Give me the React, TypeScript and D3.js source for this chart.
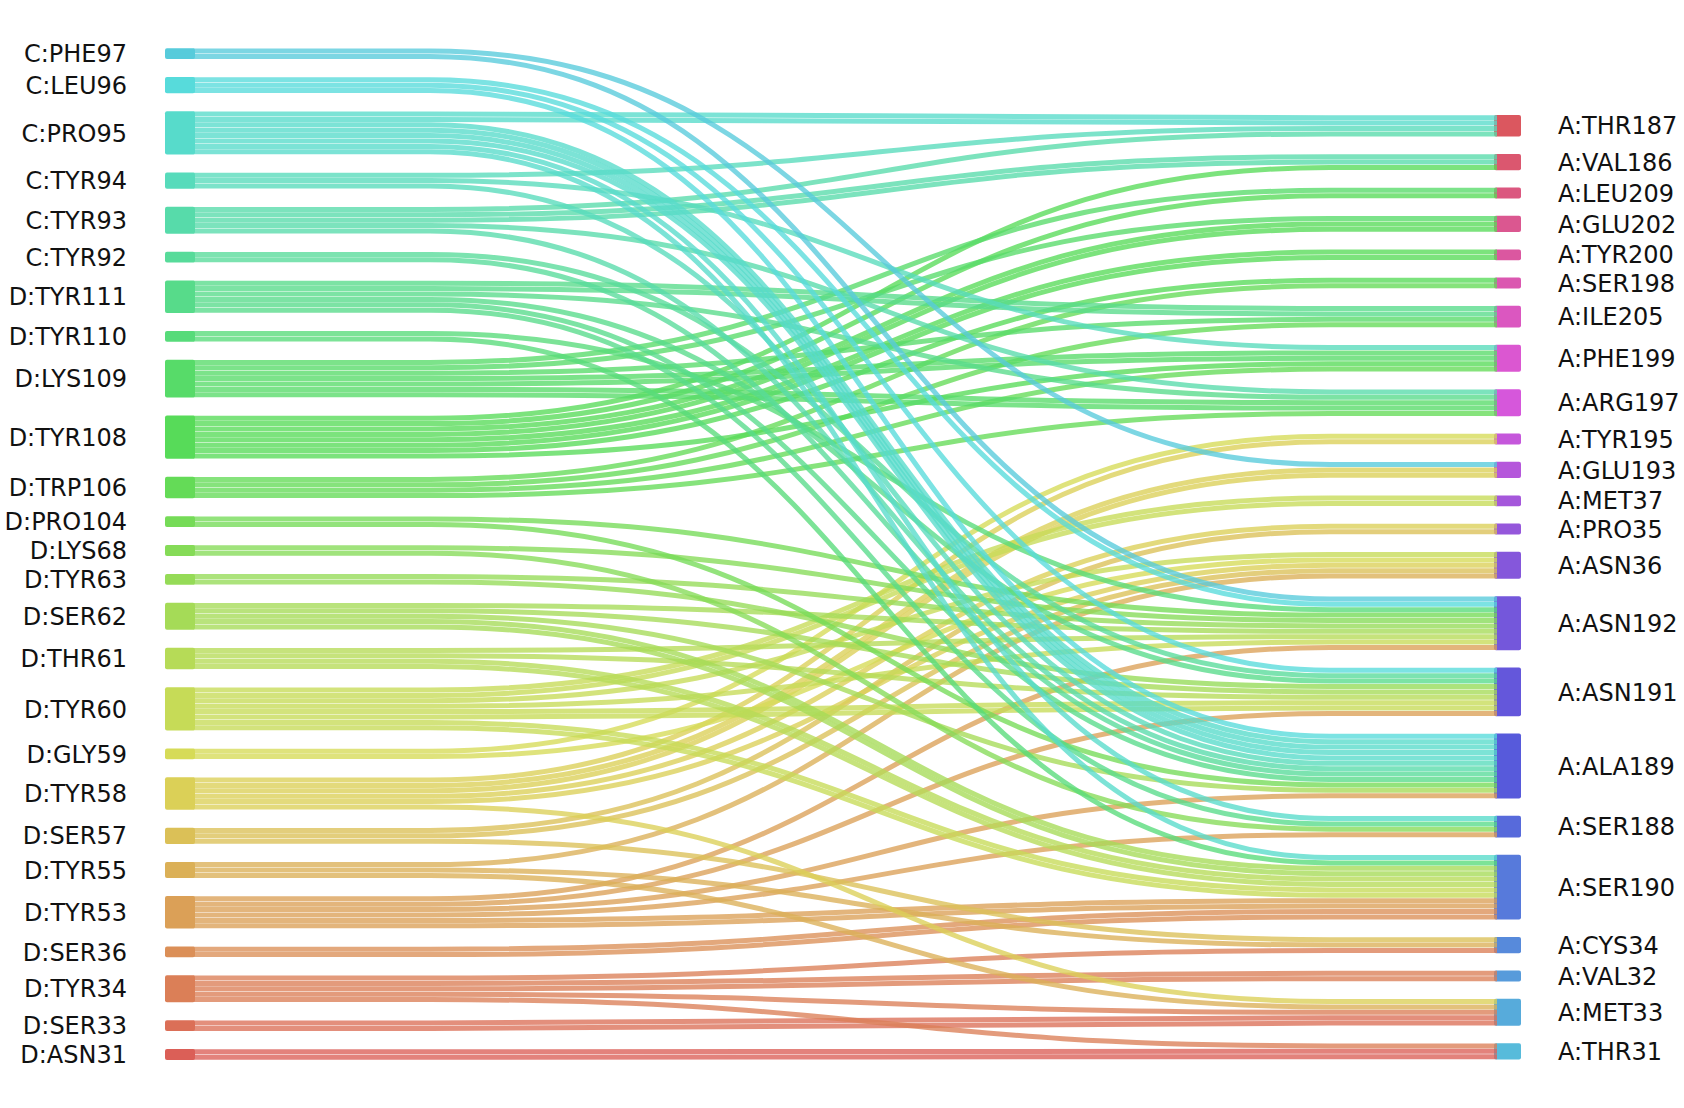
import React from 'react';
import * as d3 from 'd3';

// residues on the binder side (left, top to bottom)
const leftNodes = [
  'C:PHE97', 'C:LEU96', 'C:PRO95', 'C:TYR94', 'C:TYR93', 'C:TYR92',
  'D:TYR111', 'D:TYR110', 'D:LYS109', 'D:TYR108', 'D:TRP106', 'D:PRO104',
  'D:LYS68', 'D:TYR63', 'D:SER62', 'D:THR61', 'D:TYR60', 'D:GLY59',
  'D:TYR58', 'D:SER57', 'D:TYR55', 'D:TYR53', 'D:SER36', 'D:TYR34',
  'D:SER33', 'D:ASN31',
];

// residues on the target side (right, top to bottom)
const rightNodes = [
  'A:THR187', 'A:VAL186', 'A:LEU209', 'A:GLU202', 'A:TYR200', 'A:SER198',
  'A:ILE205', 'A:PHE199', 'A:ARG197', 'A:TYR195', 'A:GLU193', 'A:MET37',
  'A:PRO35', 'A:ASN36', 'A:ASN192', 'A:ASN191', 'A:ALA189', 'A:SER188',
  'A:SER190', 'A:CYS34', 'A:VAL32', 'A:MET33', 'A:THR31',
];

// contacts: source, target, number of contacts
const contacts: [string, string, number][] = [
  ['C:PHE97', 'A:GLU193', 1], ['C:PHE97', 'A:ASN192', 1],
  ['C:LEU96', 'A:ASN192', 1], ['C:LEU96', 'A:ASN191', 1], ['C:LEU96', 'A:ALA189', 1],
  ['C:PRO95', 'A:THR187', 2], ['C:PRO95', 'A:ALA189', 4],
  ['C:PRO95', 'A:SER188', 1], ['C:PRO95', 'A:SER190', 1],
  ['C:TYR94', 'A:THR187', 1], ['C:TYR94', 'A:PHE199', 1], ['C:TYR94', 'A:ALA189', 1],
  ['C:TYR93', 'A:THR187', 1], ['C:TYR93', 'A:VAL186', 2], ['C:TYR93', 'A:ARG197', 1],
  ['C:TYR93', 'A:ALA189', 1],
  ['C:TYR92', 'A:ASN191', 1], ['C:TYR92', 'A:ALA189', 1],
  ['D:TYR111', 'A:ILE205', 2], ['D:TYR111', 'A:ARG197', 1], ['D:TYR111', 'A:ASN191', 1],
  ['D:TYR111', 'A:ALA189', 1], ['D:TYR111', 'A:SER188', 1],
  ['D:TYR110', 'A:ASN192', 1], ['D:TYR110', 'A:SER190', 1],
  ['D:LYS109', 'A:LEU209', 1], ['D:LYS109', 'A:GLU202', 1], ['D:LYS109', 'A:ILE205', 1],
  ['D:LYS109', 'A:PHE199', 2], ['D:LYS109', 'A:ARG197', 2],
  ['D:TYR108', 'A:VAL186', 1], ['D:TYR108', 'A:LEU209', 1], ['D:TYR108', 'A:GLU202', 2],
  ['D:TYR108', 'A:TYR200', 2], ['D:TYR108', 'A:SER198', 1], ['D:TYR108', 'A:PHE199', 1],
  ['D:TRP106', 'A:SER198', 1], ['D:TRP106', 'A:ILE205', 1], ['D:TRP106', 'A:PHE199', 1],
  ['D:TRP106', 'A:ARG197', 1],
  ['D:PRO104', 'A:ASN192', 1], ['D:PRO104', 'A:ALA189', 1],
  ['D:LYS68', 'A:ASN192', 1], ['D:LYS68', 'A:SER188', 1],
  ['D:TYR63', 'A:ASN192', 1], ['D:TYR63', 'A:ASN191', 1],
  ['D:SER62', 'A:ASN192', 1], ['D:SER62', 'A:ASN191', 1], ['D:SER62', 'A:ALA189', 1],
  ['D:SER62', 'A:SER190', 2],
  ['D:THR61', 'A:ASN192', 1], ['D:THR61', 'A:ASN191', 1], ['D:THR61', 'A:SER190', 2],
  ['D:TYR60', 'A:MET37', 2], ['D:TYR60', 'A:ASN36', 1], ['D:TYR60', 'A:ASN192', 1],
  ['D:TYR60', 'A:ASN191', 2], ['D:TYR60', 'A:SER190', 2],
  ['D:GLY59', 'A:TYR195', 1], ['D:GLY59', 'A:ASN36', 1],
  ['D:TYR58', 'A:TYR195', 1], ['D:TYR58', 'A:GLU193', 2], ['D:TYR58', 'A:PRO35', 1],
  ['D:TYR58', 'A:ASN36', 1], ['D:TYR58', 'A:MET33', 1],
  ['D:SER57', 'A:PRO35', 1], ['D:SER57', 'A:ASN36', 1], ['D:SER57', 'A:CYS34', 1],
  ['D:TYR55', 'A:ASN36', 1], ['D:TYR55', 'A:CYS34', 1], ['D:TYR55', 'A:MET33', 1],
  ['D:TYR53', 'A:ASN192', 1], ['D:TYR53', 'A:ASN191', 1], ['D:TYR53', 'A:ALA189', 1],
  ['D:TYR53', 'A:SER188', 1], ['D:TYR53', 'A:SER190', 2],
  ['D:SER36', 'A:SER190', 2],
  ['D:TYR34', 'A:CYS34', 1], ['D:TYR34', 'A:VAL32', 2], ['D:TYR34', 'A:MET33', 1],
  ['D:TYR34', 'A:THR31', 1],
  ['D:SER33', 'A:MET33', 2],
  ['D:ASN31', 'A:THR31', 2],
];

const W = 1684;
const H = 1108;

export default function App() {
  const leftX = 165, rightX = 1494, nodeW = 27;
  const bendStart = 430, bendEnd = 1330;
  const leftTop = 48.3, rightTop = 115;
  const leftGap = 18.0, rightGap = 17.4;

  // contacts -> pixels
  const unit = d3.scaleLinear().domain([0, 1]).range([0, 5.4]);

  // seaborn-like hls palette, going round from bottom-left to top-right
  const n = leftNodes.length + rightNodes.length;
  const palette = d3.range(n).map(i =>
    d3.hsl(((i / n + 0.01) % 1) * 360, 0.65, 0.6).formatHex());
  const colorOf = new Map<string, string>();
  leftNodes.forEach((name, p) => colorOf.set(name, palette[leftNodes.length - 1 - p]));
  rightNodes.forEach((name, p) => colorOf.set(name, palette[n - 1 - p]));

  const leftTotal = d3.rollup(contacts, v => d3.sum(v, d => d[2]), d => d[0]);
  const rightTotal = d3.rollup(contacts, v => d3.sum(v, d => d[2]), d => d[1]);

  const stack = (names: string[], totals: Map<string, number>, top: number, gap: number) => {
    const pos = new Map<string, { y: number; h: number }>();
    let y = top;
    names.forEach(name => {
      const h = unit(totals.get(name) || 0);
      pos.set(name, { y, h });
      y += h + gap;
    });
    return pos;
  };
  const leftPos = stack(leftNodes, leftTotal, leftTop, leftGap);
  const rightPos = stack(rightNodes, rightTotal, rightTop, rightGap);

  const li = new Map(leftNodes.map((d, i) => [d, i]));
  const ri = new Map(rightNodes.map((d, i) => [d, i]));

  // slot offsets inside each node
  const leftSlot = new Map<[string, string, number], number>();
  const rightSlot = new Map<[string, string, number], number>();
  leftNodes.forEach(name => {
    let s = 0;
    contacts.filter(c => c[0] === name)
      .sort((a, b) => ri.get(a[1])! - ri.get(b[1])!)
      .forEach(c => { leftSlot.set(c, s); s += c[2]; });
  });
  rightNodes.forEach(name => {
    let s = 0;
    contacts.filter(c => c[1] === name)
      .sort((a, b) => li.get(a[0])! - li.get(b[0])!)
      .forEach(c => { rightSlot.set(c, s); s += c[2]; });
  });

  const lines: { d: string; color: string; key: string }[] = [];
  const ordered = contacts.slice().sort((a, b) => li.get(b[0])! - li.get(a[0])!);
  const mid = (bendStart + bendEnd) / 2;
  ordered.forEach(c => {
    const lp = leftPos.get(c[0])!, rp = rightPos.get(c[1])!;
    for (let k = 0; k < c[2]; k++) {
      const y0 = lp.y + unit(leftSlot.get(c)! + k + 0.5);
      const y1 = rp.y + unit(rightSlot.get(c)! + k + 0.5);
      const p = d3.path();
      p.moveTo(leftX + nodeW + 1, y0);
      p.lineTo(bendStart, y0);
      p.bezierCurveTo(mid, y0, mid, y1, bendEnd, y1);
      p.lineTo(rightX + 3, y1);
      lines.push({ d: p.toString(), color: colorOf.get(c[0])!, key: `${c[0]}-${c[1]}-${k}` });
    }
  });

  const font = { fontFamily: '"DejaVu Sans", sans-serif', fontSize: 24 };

  return (
    <svg width={W} height={H} viewBox={`0 0 ${W} ${H}`}
      style={{ position: 'absolute', left: 0, top: 0, background: '#fff' }}>
      <g>
        {leftNodes.map(name => {
          const p = leftPos.get(name)!;
          return <rect key={name} x={leftX} y={p.y} width={nodeW + 3} height={p.h} rx={2}
            fill={colorOf.get(name)} />;
        })}
        {rightNodes.map(name => {
          const p = rightPos.get(name)!;
          return <rect key={name} x={rightX} y={p.y} width={nodeW} height={p.h} rx={2}
            fill={colorOf.get(name)} />;
        })}
      </g>
      <g fill="none" strokeWidth={5.0} strokeOpacity={0.78}>
        {lines.map(l => <path key={l.key} d={l.d} stroke={l.color} />)}
      </g>
      <g style={font} fill="#111">
        {leftNodes.map(name => {
          const p = leftPos.get(name)!;
          return <text key={name} x={127} y={p.y + p.h / 2} dy="0.36em" textAnchor="end">{name}</text>;
        })}
        {rightNodes.map(name => {
          const p = rightPos.get(name)!;
          return <text key={name} x={1558} y={p.y + p.h / 2} dy="0.36em" textAnchor="start">{name}</text>;
        })}
      </g>
    </svg>
  );
}
